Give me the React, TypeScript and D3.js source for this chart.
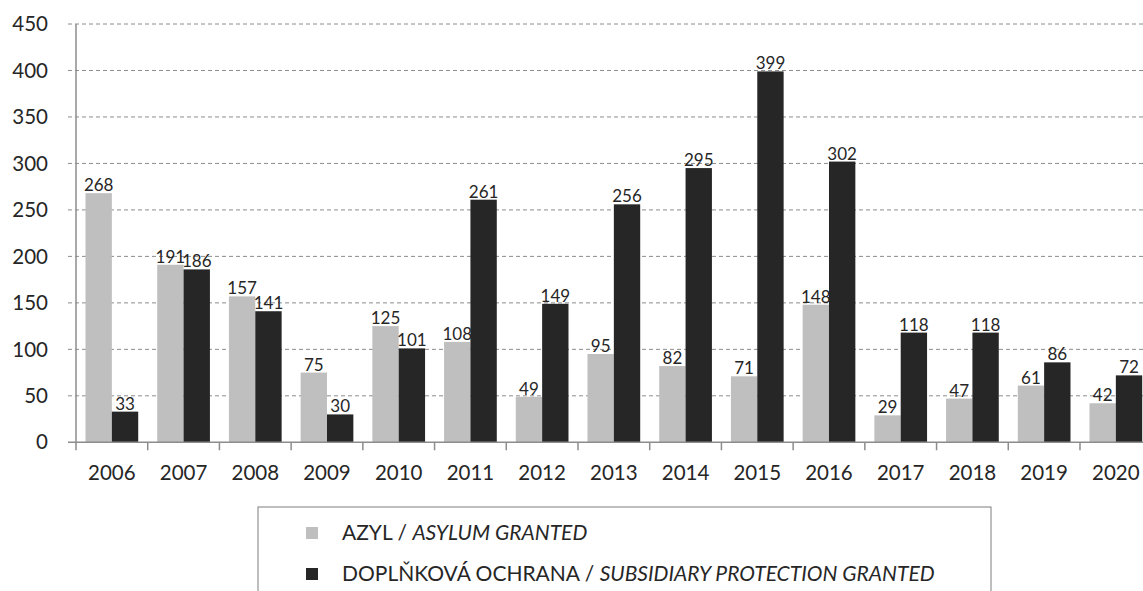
import React from "react";
import * as d3 from "d3";

const years = ["2006","2007","2008","2009","2010","2011","2012","2013","2014","2015","2016","2017","2018","2019","2020"];
const asylum = [268,191,157,75,125,108,49,95,82,71,148,29,47,61,42];
const subsidiary = [33,186,141,30,101,261,149,256,295,399,302,118,118,86,72];
const yTicks = [0,50,100,150,200,250,300,350,400,450];
const seriesNames = ["AZYL / ", "DOPLŇKOVÁ OCHRANA / "];
const seriesItalic = ["ASYLUM GRANTED", "SUBSIDIARY PROTECTION GRANTED"];
const colors = ["#bfbfbf", "#262626"];

const W = 1143, H = 591;
const left = 76, right = 1151.7, top = 24, bottom = 442.3;
const font = "Lato, 'Open Sans', sans-serif";
const textColor = "#262626";

export default function App() {
  const x = d3.scaleBand<string>().domain(years).range([left, right]).padding(0);
  const step = x.step();
  const inner = d3.scaleBand<number>().domain([0, 1]).range([9.5, step - 9.5]).padding(0);
  const y = d3.scaleLinear().domain([0, 450]).range([bottom, top]);
  const series = [asylum, subsidiary];

  return (
    <svg width={W} height={H} style={{ position: "absolute", left: 0, top: 0, background: "#fff" }} fontFamily={font}>
      {yTicks.map((t) => (
        <g key={t}>
          {t > 0 && (
            <line x1={68} x2={right} y1={y(t)} y2={y(t)} stroke="#8c8c8c" strokeWidth={1} strokeDasharray="4,3" />
          )}
          <text x={48} y={y(t)} dy="0.35em" textAnchor="end" fontSize={20.5} fill={textColor}>{t}</text>
        </g>
      ))}
      {series.map((vals, si) =>
        vals.map((v, i) => {
          const bx = (x(years[i]) as number) + (inner(si) as number);
          const bw = inner.bandwidth();
          return (
            <g key={`${si}-${i}`}>
              <rect x={bx} y={y(v)} width={bw} height={bottom - y(v)} fill={colors[si]} />
              <text x={bx + bw / 2} y={y(v) - 2} textAnchor="middle" fontSize={17} fill={textColor}>{v}</text>
            </g>
          );
        })
      )}
      <line x1={left} x2={left} y1={top} y2={bottom} stroke="#8c8c8c" strokeWidth={1.5} />
      <line x1={68} x2={right} y1={bottom} y2={bottom} stroke="#8c8c8c" strokeWidth={1.5} />
      {years.map((yr) => (
        <line key={"t" + yr} x1={(x(yr) as number)} x2={(x(yr) as number)} y1={bottom} y2={bottom + 8} stroke="#8c8c8c" strokeWidth={1.5} />
      ))}
      {years.map((yr) => (
        <text key={"l" + yr} x={(x(yr) as number) + step / 2} y={480} textAnchor="middle" fontSize={20.5} fill={textColor}>{yr}</text>
      ))}
      <rect x={258} y={507} width={733} height={120} fill="none" stroke="#7f7f7f" strokeWidth={1} />
      {seriesNames.map((n, i) => (
        <g key={"lg" + i}>
          <rect x={306} y={527 + i * 41} width={12} height={12} fill={colors[i]} />
          <text x={342} y={533 + i * 41} dy="0.35em" fontSize={21} fill={textColor}>
            {n}
            <tspan fontStyle="italic">{seriesItalic[i]}</tspan>
          </text>
        </g>
      ))}
    </svg>
  );
}
